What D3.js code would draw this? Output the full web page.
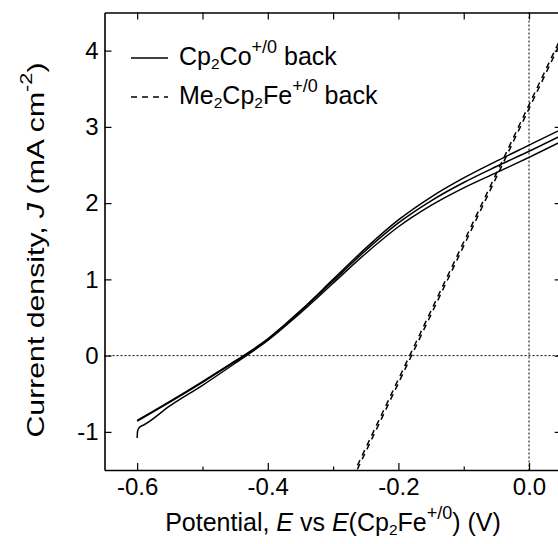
<!DOCTYPE html>
<html lang="en">
<head>
<meta charset="UTF-8">
<title>J-E back scans</title>
<script src="https://cdn.jsdelivr.net/npm/d3@7"></script>
<style>
  html,body{margin:0;padding:0;background:#fff;overflow:hidden;}
  svg{display:block;}
  svg text{font-family:"Liberation Sans",Arial,Helvetica,sans-serif;fill:#000;}
</style>
</head>
<body>
<div id="box"></div>
<script>
// values: [E (V vs Cp2Fe+/0), J (mA cm-2)]
const coBack1 = [[-0.6,-0.85],[-0.55,-0.60],[-0.5,-0.34],[-0.45,-0.07],[-0.4,0.22],[-0.35,0.59],
  [-0.3,1.00],[-0.25,1.41],[-0.2,1.78],[-0.15,2.08],[-0.1,2.33],[-0.05,2.55],[0,2.76],[0.05,2.97]];
const coBack2 = [[-0.6,-0.86],[-0.55,-0.61],[-0.5,-0.35],[-0.45,-0.08],[-0.4,0.21],[-0.35,0.58],
  [-0.3,0.98],[-0.25,1.38],[-0.2,1.74],[-0.15,2.03],[-0.1,2.27],[-0.05,2.48],[0,2.68],[0.05,2.89]];
const coBack3 = [[-0.6,-1.08],[-0.5995,-1.0],[-0.598,-0.96],[-0.595,-0.93],[-0.59,-0.91],[-0.55,-0.66],
  [-0.5,-0.39],[-0.45,-0.10],[-0.4,0.20],[-0.35,0.56],[-0.3,0.95],[-0.25,1.34],[-0.2,1.69],
  [-0.15,1.97],[-0.1,2.20],[-0.05,2.40],[0,2.60],[0.05,2.81]];
const feBack1 = [[-0.27,-1.57],[-0.2,-0.31],[-0.1,1.49],[0,3.29],[0.05,4.19]];
const feBack2 = [[-0.27,-1.62],[-0.2,-0.36],[-0.1,1.44],[0,3.24],[0.05,4.14]];

const xTicks = [-0.6,-0.4,-0.2,0.0];
const xMinor = [-0.5,-0.3,-0.1];
const xTopTicks = [-0.6,-0.5,-0.4,-0.3,-0.2,-0.1,0.0];
const yTicks = [-1,0,1,2,3,4];

const svg = d3.select("#box").append("svg").attr("width",558).attr("height",544);
const margin = {top:12.5,left:104.5};
const innerWidth = 457.2, innerHeight = 457.5;

const x = d3.scaleLinear().domain([-0.65,0.05]).range([0,innerWidth]);
const y = d3.scaleLinear().domain([-1.5,4.5]).range([innerHeight,0]);

const g = svg.append("g").attr("transform",`translate(${margin.left},${margin.top})`);

g.append("clipPath").attr("id","plot")
  .append("rect").attr("width",innerWidth).attr("height",innerHeight);

// zero guides
g.append("line").attr("x1",0).attr("x2",innerWidth).attr("y1",y(0)).attr("y2",y(0))
  .attr("stroke","#000").attr("stroke-width",1).attr("stroke-dasharray","2,2");
g.append("line").attr("x1",x(0)).attr("x2",x(0)).attr("y1",0).attr("y2",innerHeight)
  .attr("stroke","#000").attr("stroke-width",1).attr("stroke-dasharray","2,2");

// curves
const line = d3.line().x(d=>x(d[0])).y(d=>y(d[1])).curve(d3.curveMonotoneX);
const curves = g.append("g").attr("clip-path","url(#plot)");
[coBack1,coBack2,coBack3].forEach(s=>{
  curves.append("path").attr("d",line(s)).attr("fill","none")
    .attr("stroke","#000").attr("stroke-width",1.5);
});
[feBack1,feBack2].forEach(s=>{
  curves.append("path").attr("d",line(s)).attr("fill","none")
    .attr("stroke","#000").attr("stroke-width",1.5).attr("stroke-dasharray","6,5");
});

// axes
const fmtX = d=>d.toFixed(1);
const bottom = g.append("g").attr("transform",`translate(0,${innerHeight})`)
  .call(d3.axisBottom(x).tickValues(xTicks).tickSizeInner(-7).tickSizeOuter(0).tickFormat(fmtX));
bottom.selectAll("text").attr("dy",null).attr("y",25);
g.append("g").attr("transform",`translate(0,${innerHeight})`)
  .call(d3.axisBottom(x).tickValues(xMinor).tickSizeInner(-3.5).tickSizeOuter(0).tickFormat(""))
  .select(".domain").remove();
g.append("g")
  .call(d3.axisTop(x).tickValues(xTopTicks).tickSizeInner(-7).tickSizeOuter(0).tickFormat(""));
g.append("g")
  .call(d3.axisLeft(y).tickValues(yTicks).tickSizeInner(-7).tickSizeOuter(0).tickPadding(6).tickFormat(d=>String(d)));
g.append("g").attr("transform",`translate(${innerWidth},0)`)
  .call(d3.axisRight(y).tickValues(yTicks).tickSizeInner(-7).tickSizeOuter(0).tickFormat(""));

g.selectAll(".tick text").filter(function(){ return this.textContent===""; }).remove();
g.selectAll(".domain").attr("stroke-width",1.6);
g.selectAll(".tick line").attr("stroke-width",1.2);
g.selectAll(".tick text").attr("font-size","24px").attr("font-family",null);

// text with sub/superscripts
function richText(t, parts, size){
  let shift = 0;
  parts.forEach(([s,k])=>{
    const target = k==="sup" ? -0.48*size : k==="sub" ? 0.15*size : 0;
    const ts = t.append("tspan").text(s).attr("dy", target-shift);
    if(k==="sup") ts.attr("font-size", 0.72*size);
    if(k==="sub") ts.attr("font-size", 0.62*size);
    if(k==="i") ts.attr("font-style","italic");
    shift = target;
  });
}

// legend
const legend = [
  {dash:null, parts:[["Cp",""],["2","sub"],["Co",""],["+/0","sup"],[" back",""]]},
  {dash:"6,5", parts:[["Me",""],["2","sub"],["Cp",""],["2","sub"],["Fe",""],["+/0","sup"],[" back",""]]}
];
legend.forEach((d,i)=>{
  const ly = 58 + i*39;
  svg.append("line").attr("x1",131).attr("x2",168).attr("y1",ly).attr("y2",ly)
    .attr("stroke","#000").attr("stroke-width",1.5).attr("stroke-dasharray",d.dash);
  const t = svg.append("text").attr("x",179).attr("y",ly+7).attr("font-size",25);
  richText(t, d.parts, 25);
});

// axis titles
const xt = svg.append("text").attr("x",333).attr("y",531).attr("text-anchor","middle").attr("font-size",25);
richText(xt, [["Potential, ",""],["E","i"],[" vs ",""],["E","i"],["(Cp",""],["2","sub"],["Fe",""],["+/0","sup"],[") (V)",""]], 25);
const yt = svg.append("text").attr("transform","translate(44,250) rotate(-90)")
  .attr("text-anchor","middle").attr("font-size",24)
  .attr("textLength",375).attr("lengthAdjust","spacingAndGlyphs");
richText(yt, [["Current density, ",""],["J","i"],[" (mA cm",""],["-2","sup"],[")",""]], 24);
</script>
</body>
</html>
